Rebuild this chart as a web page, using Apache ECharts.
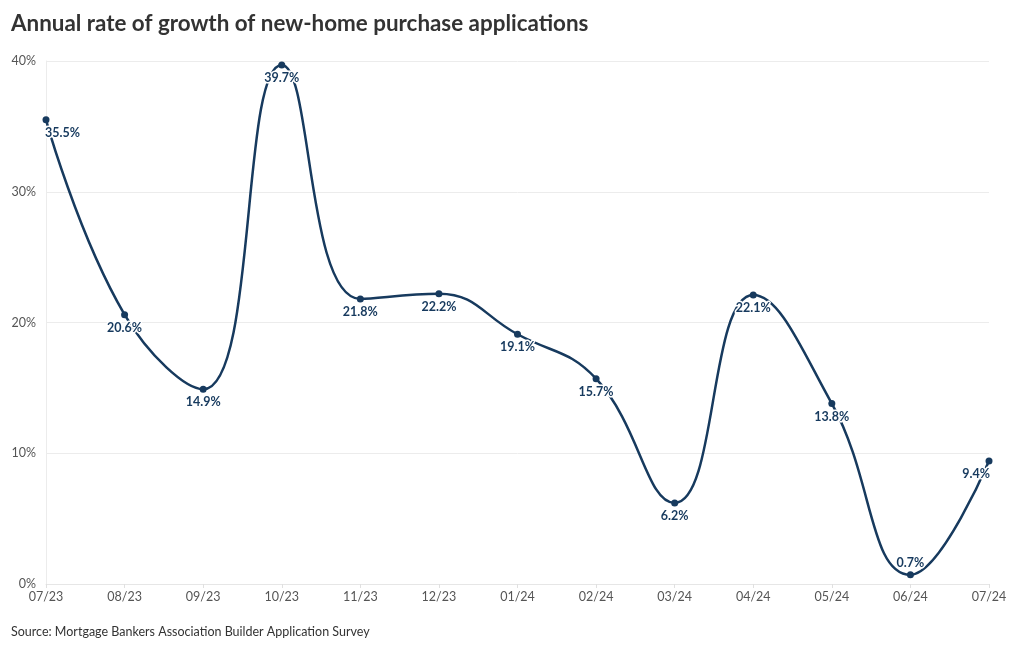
<!DOCTYPE html>
<html><head><meta charset="utf-8">
<script src="https://cdn.jsdelivr.net/npm/echarts@6/dist/echarts.min.js"></script>
<style>html,body{margin:0;padding:0;background:#fff}#c{width:1020px;height:650px}</style>
</head><body><div id="c"></div>
<script>
const categories = ['07/23','08/23','09/23','10/23','11/23','12/23','01/24','02/24','03/24','04/24','05/24','06/24','07/24'];
const growth = [35.5, 20.6, 14.9, 39.7, 21.8, 22.2, 19.1, 15.7, 6.2, 22.1, 13.8, 0.7, 9.4];
const yTicks = [0, 10, 20, 30, 40];

const navy = '#173a5e';
const data = growth.map((v, i) => {
  const d = { value: v };
  if (i === 0) d.label = { align: 'left', offset: [-1, 0] };
  if (i === growth.length - 1) d.label = { align: 'right', offset: [1, 0] };
  if (v < 2) d.label = { position: 'top', distance: 2 };
  return d;
});

const chart = echarts.init(document.getElementById('c'), null, { renderer: 'canvas' });
chart.setOption({
  animation: false,
  textStyle: { fontFamily: 'Lato' },
  title: {
    text: 'Annual rate of growth of new-home purchase applications',
    left: 6, top: 8,
    textStyle: { fontFamily: 'Lato', fontWeight: 'bold', fontSize: 22.4, color: '#333' }
  },
  graphic: [{
    type: 'text', left: 11, top: 625,
    style: { text: 'Source: Mortgage Bankers Association Builder Application Survey', font: '12.5px Lato', fill: '#333' }
  }],
  grid: { left: 46, right: 31, top: 61, bottom: 66 },
  xAxis: {
    type: 'category', data: categories, boundaryGap: false,
    axisLine: { show: true, lineStyle: { color: '#e6e6e6' } },
    axisTick: { show: true, alignWithLabel: true, length: 4, lineStyle: { color: '#e0e0e0' } },
    axisLabel: { color: '#555', fontSize: 12.5, margin: 6, fontFamily: 'Lato' },
    splitLine: { show: false }
  },
  yAxis: {
    type: 'value', min: yTicks[0], max: yTicks[yTicks.length - 1], interval: 10,
    axisLine: { show: true, lineStyle: { color: '#ececec' } },
    axisTick: { show: false },
    axisLabel: { color: '#555', fontSize: 12.5, margin: 10, fontFamily: 'Lato', formatter: v => v + '%' },
    splitLine: { lineStyle: { color: '#ececec' } }
  },
  series: [{
    type: 'line', data: data, smooth: 0.45,
    symbol: 'circle', symbolSize: 7,
    itemStyle: { color: navy },
    lineStyle: { color: navy, width: 2.5 },
    label: {
      show: true, position: 'bottom', distance: 3,
      color: navy, fontWeight: 'bold', fontSize: 12.5, fontFamily: 'Lato',
      textBorderColor: '#fff', textBorderWidth: 3,
      formatter: p => p.value.toFixed(1) + '%'
    }
  }]
});
</script></body></html>
